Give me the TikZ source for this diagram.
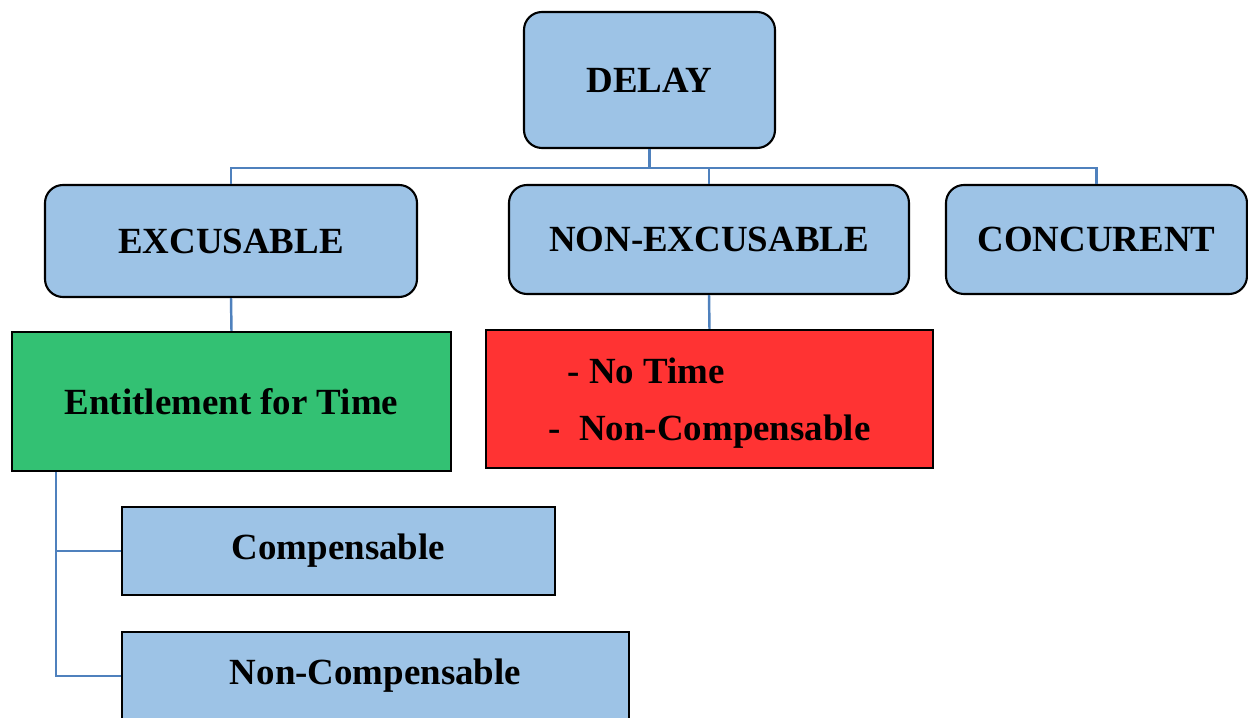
\documentclass[tikz,border=0pt]{standalone}
\usepackage{fontspec}
\setmainfont{Liberation Serif}
\usepackage{xcolor}
\usepackage{tikz}
\usetikzlibrary{positioning, calc}
\definecolor{boxblue}{HTML}{9DC3E6}
\definecolor{linkblue}{HTML}{4F81BD}
\definecolor{okgreen}{HTML}{33C173}
\definecolor{badred}{HTML}{FF3333}

\begin{document}
\begin{tikzpicture}[
        catbox/.style={draw=black, line width=1.2pt, fill=boxblue, rounded corners=0.36cm, inner sep=0pt},
        plainbox/.style={draw=black, line width=1.2pt, inner sep=0pt},
        link/.style={draw=linkblue, line width=1.4pt},
        font=\fontsize{21}{25}\selectfont\bfseries
    ]
        \useasboundingbox (0,0) rectangle (24.96,-14.36);

        % Top level
        \node[catbox, minimum width=5.02cm, minimum height=2.72cm] (delay) at (12.99,-1.6) {DELAY};

        % Kinds of delay
        \node[catbox, minimum width=7.44cm, minimum height=2.24cm] (excus) at (4.62,-4.82) {EXCUSABLE};
        \node[catbox, minimum width=8.0cm, minimum height=2.18cm] (nonexcus) at (14.18,-4.79) {NON-EXCUSABLE};
        \node[catbox, minimum width=6.02cm, minimum height=2.18cm] (concur) at (21.93,-4.79) {CONCURENT};

        % What they give
        \node[plainbox, fill=okgreen, minimum width=8.78cm, minimum height=2.78cm] (entitle) at (4.63,-8.03) {Entitlement for Time};
        \node[plainbox, fill=badred, minimum width=8.94cm, minimum height=2.76cm] (notime) at (14.19,-7.98) {};
        \node[align=left] (notimetext) at ([yshift=-0.08cm]notime.center) {\hspace*{0.38cm}- No Time\\[7.4pt]-\ \ Non-Compensable};

        % Sub-kinds of excusable
        \node[plainbox, fill=boxblue, minimum width=8.66cm, minimum height=1.76cm] (comp) at (6.77,-11.02) {Compensable};
        \node[plainbox, fill=boxblue, minimum width=10.14cm, minimum height=1.76cm] (noncomp) at (7.51,-13.52) {Non-Compensable};

        % Connectors
        \coordinate (bus) at ($(delay.south)+(0,-0.38)$);
        \draw[link] (delay.south) -- (bus);
        \draw[link] (excus.north) |- (bus) -| (concur.north);
        \draw[link] (bus -| nonexcus.north) -- (nonexcus.north);
        \draw[link] (excus.south) -- (entitle.north);
        \draw[link] (nonexcus.south) -- (notime.north);
        \coordinate (trunk) at ([xshift=0.9cm]entitle.south west);
        \draw[link] (trunk) |- (noncomp.west);
        \draw[link] (comp.west) -- (comp.west -| trunk);
    \end{tikzpicture}
\end{document}
